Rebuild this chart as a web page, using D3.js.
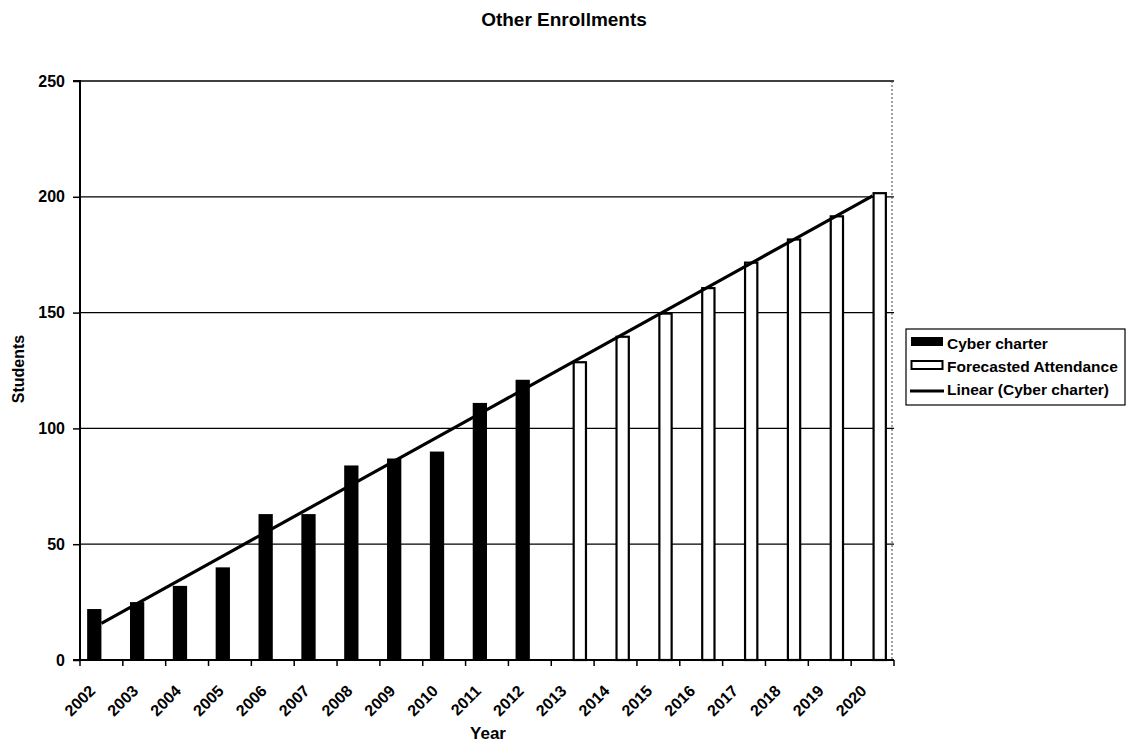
<!DOCTYPE html>
<html>
<head>
<meta charset="utf-8">
<script src="https://cdn.jsdelivr.net/npm/d3@7/dist/d3.min.js"></script>
<style>
  html, body { margin: 0; padding: 0; background: #fff; }
  svg { display: block; font-family: "Liberation Sans", Arial, sans-serif; }
</style>
</head>
<body>
<svg id="chart" width="1127" height="742"></svg>
<script>
const years = ["2002","2003","2004","2005","2006","2007","2008","2009","2010","2011","2012",
               "2013","2014","2015","2016","2017","2018","2019","2020"];
const cyberCharter = [22, 25, 32, 40, 63, 63, 84, 87, 90, 111, 121,
                      null, null, null, null, null, null, null, null];
const forecasted = [null, null, null, null, null, null, null, null, null, null, null,
                    129, 140, 150, 161, 172, 182, 192, 202];
const seriesNames = ["Cyber charter", "Forecasted Attendance"];
const yTicks = [0, 50, 100, 150, 200, 250];
const titleText = "Other Enrollments";
const xTitle = "Year";
const yTitle = "Students";
const legendLabels = ["Cyber charter", "Forecasted Attendance", "Linear (Cyber charter)"];

const svg = d3.select("#chart");
const L = 80, R = 894, T = 81, B = 660;

const x = d3.scaleBand().domain(years).range([L, R]).padding(0);
const xs = d3.scaleBand().domain(seriesNames).range([0, x.bandwidth()]).paddingInner(0).paddingOuter(0.5);
const y = d3.scaleLinear().domain([0, 250]).range([B, T]);

// gridlines
svg.append("g").selectAll("line").data(yTicks.filter(d => d > 0)).join("line")
  .attr("x1", L).attr("x2", R).attr("y1", d => y(d)).attr("y2", d => y(d))
  .attr("stroke", "#000").attr("stroke-width", 1.3);

// right border of plot area
svg.append("line").attr("x1", R - 2).attr("x2", R - 2).attr("y1", T).attr("y2", B)
  .attr("stroke", "#444").attr("stroke-width", 1).attr("stroke-dasharray", "2,2");

// bars
const barData = [];
years.forEach((yr, i) => {
  if (cyberCharter[i] != null) barData.push({yr, s: seriesNames[0], v: cyberCharter[i]});
  if (forecasted[i] != null) barData.push({yr, s: seriesNames[1], v: forecasted[i]});
});
svg.append("g").selectAll("rect").data(barData).join("rect")
  .attr("x", d => x(d.yr) + xs(d.s) + (d.s === seriesNames[1] ? 1 : 0))
  .attr("width", d => xs.bandwidth() - (d.s === seriesNames[1] ? 2 : 0))
  .attr("y", d => y(d.v) + (d.s === seriesNames[1] ? 1 : 0))
  .attr("height", d => B - y(d.v) - (d.s === seriesNames[1] ? 1 : 0))
  .attr("fill", d => d.s === seriesNames[0] ? "#000" : "#fff")
  .attr("stroke", "#000")
  .attr("stroke-width", d => d.s === seriesNames[0] ? 0 : 2.2);

// linear trendline (least squares on cyber charter, extended forward)
const pts = cyberCharter.map((v, i) => [i + 1, v]).filter(p => p[1] != null);
const mx = d3.mean(pts, p => p[0]), my = d3.mean(pts, p => p[1]);
const slope = d3.sum(pts, p => (p[0] - mx) * (p[1] - my)) / d3.sum(pts, p => (p[0] - mx) ** 2);
const icpt = my - slope * mx;
const trend = years.map((yr, i) => ({yr, v: icpt + slope * (i + 1)}));
svg.append("path").datum(trend)
  .attr("d", d3.line().x(d => x(d.yr) + x.bandwidth() / 2).y(d => y(d.v)))
  .attr("fill", "none").attr("stroke", "#000").attr("stroke-width", 3.2);

// axes
const yAxis = d3.axisLeft(y).tickValues(yTicks).tickSize(7).tickPadding(8).tickFormat(d3.format("d"));
const gy = svg.append("g").attr("transform", `translate(${L},0)`).call(yAxis);
gy.select(".domain").attr("stroke", "#000").attr("stroke-width", 2).attr("d", `M-7,${T}H0V${B}H-7`);
gy.selectAll(".tick line").attr("stroke", "#000").attr("stroke-width", 1.5);
gy.selectAll(".tick text").attr("font-size", 16).attr("font-weight", "bold").attr("fill", "#000")
  .attr("font-family", "'Liberation Sans', Arial, sans-serif");

const gx = svg.append("g").attr("transform", `translate(0,${B})`);
gx.append("line").attr("x1", L).attr("x2", R).attr("y1", 0).attr("y2", 0)
  .attr("stroke", "#000").attr("stroke-width", 2);
gx.selectAll("line.tk").data(d3.range(years.length + 1)).join("line").attr("class", "tk")
  .attr("x1", i => L + i * x.step()).attr("x2", i => L + i * x.step())
  .attr("y1", 0).attr("y2", 6).attr("stroke", "#000").attr("stroke-width", 1.5);
gx.selectAll("text").data(years).join("text")
  .attr("transform", d => `translate(${x(d) + x.bandwidth() / 2 - 9},${28}) rotate(-45)`)
  .attr("text-anchor", "end").attr("dy", "0.35em")
  .attr("font-size", 16).attr("font-weight", "bold").attr("fill", "#000")
  .text(d => d);

// titles
svg.append("text").attr("x", 564).attr("y", 26).attr("text-anchor", "middle")
  .attr("font-size", 19).attr("font-weight", "bold").text(titleText);
svg.append("text").attr("x", 488).attr("y", 739).attr("text-anchor", "middle")
  .attr("font-size", 17).attr("font-weight", "bold").text(xTitle);
svg.append("text").attr("transform", "translate(24,369) rotate(-90)").attr("text-anchor", "middle")
  .attr("font-size", 16).attr("font-weight", "bold").text(yTitle);

// legend
const lg = svg.append("g");
lg.append("rect").attr("x", 906).attr("y", 329).attr("width", 219).attr("height", 76)
  .attr("fill", "#fff").attr("stroke", "#000").attr("stroke-width", 1.2);
const rowY = [343, 366, 389];
lg.append("rect").attr("x", 911).attr("y", rowY[0] - 6).attr("width", 32).attr("height", 9).attr("fill", "#000");
lg.append("rect").attr("x", 911.5).attr("y", rowY[1] - 5).attr("width", 31).attr("height", 8)
  .attr("fill", "#fff").attr("stroke", "#000").attr("stroke-width", 2);
lg.append("line").attr("x1", 910).attr("x2", 944).attr("y1", rowY[2] + 2).attr("y2", rowY[2] + 2)
  .attr("stroke", "#000").attr("stroke-width", 3);
lg.selectAll("text").data(legendLabels).join("text")
  .attr("x", 947).attr("y", (d, i) => rowY[i] + 6)
  .attr("font-size", 15.5).attr("font-weight", "bold").text(d => d);
</script>
</body>
</html>
